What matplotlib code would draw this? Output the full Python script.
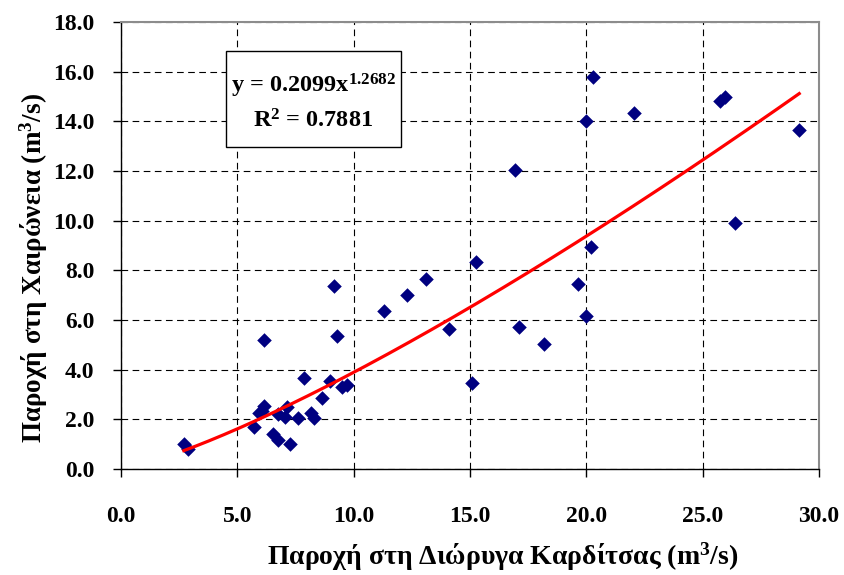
import matplotlib
matplotlib.use("Agg")
import matplotlib.pyplot as plt
from matplotlib.patches import Rectangle
import numpy as np

plt.rcParams['font.family'] = ['Liberation Serif', 'DejaVu Serif']
plt.rcParams['font.weight'] = 'bold'
plt.rcParams['mathtext.fontset'] = 'custom'
plt.rcParams['mathtext.rm'] = 'Liberation Serif:bold'
plt.rcParams['mathtext.bf'] = 'Liberation Serif:bold'
plt.rcParams['mathtext.it'] = 'Liberation Serif:bold'

# Discharge at Karditsa canal (m3/s)
karditsa = [2.7, 2.9, 6.15, 9.3, 7.85, 9.0, 9.5, 9.7, 8.65, 6.15, 5.95, 6.05,
            7.15, 6.75, 7.05, 7.6, 8.15, 8.3, 5.7, 6.55, 6.75, 7.25,
            15.25, 13.1, 12.3, 11.3, 14.1, 17.1, 15.1, 9.15,
            20.3, 20.0, 22.05, 25.75, 25.95, 29.15, 16.95, 26.4, 20.2,
            19.65, 20.0, 18.2]
# Discharge at Chaironeia (m3/s)
chaironeia = [1.0, 0.8, 5.2, 5.35, 3.65, 3.55, 3.3, 3.4, 2.85, 2.55, 2.25, 2.35,
              2.5, 2.2, 2.1, 2.05, 2.25, 2.05, 1.7, 1.4, 1.15, 1.0,
              8.35, 7.65, 7.0, 6.35, 5.65, 5.7, 3.45, 7.35,
              15.8, 14.0, 14.35, 14.8, 15.0, 13.65, 12.05, 9.9, 8.95,
              7.45, 6.15, 5.05]

coef_a = 0.2099
coef_b = 1.2682
r2 = 0.7881

xticks = [0.0, 5.0, 10.0, 15.0, 20.0, 25.0, 30.0]
yticks = [0.0, 2.0, 4.0, 6.0, 8.0, 10.0, 12.0, 14.0, 16.0, 18.0]

fig = plt.figure(figsize=(8.44, 5.75), dpi=100)
L, R, T, B = 121, 819, 22, 469
ax = fig.add_axes([L/844, 1 - B/575, (R - L)/844, (B - T)/575])

ax.set_xlim(0, 30)
ax.set_ylim(0, 18)
ax.set_xticks(xticks)
ax.set_yticks(yticks)
ax.set_xticklabels([f"{v:.1f}" for v in xticks])
ax.set_yticklabels([f"{v:.1f}" for v in yticks])

ax.grid(True, color='black', linestyle=(0, (6, 4)), linewidth=0.8)
ax.set_axisbelow(True)

for s in ['left', 'bottom']:
    ax.spines[s].set_color('black')
    ax.spines[s].set_linewidth(1.0)
for s in ['top', 'right']:
    ax.spines[s].set_color('#8c8c8c')
    ax.spines[s].set_linewidth(1.5)

ax.tick_params(axis='both', direction='out', length=6, width=1.0, labelsize=17)
ax.tick_params(axis='y', pad=13)
ax.tick_params(axis='x', pad=21)
for lab in ax.get_xticklabels() + ax.get_yticklabels():
    lab.set_fontweight('bold')

ax.scatter(karditsa, chaironeia, marker='D', s=55, color='#000080', zorder=3, linewidths=0)

xf = np.linspace(min(karditsa), max(karditsa), 200)
ax.plot(xf, coef_a * xf ** coef_b, color='#ff0000', linewidth=2.3, zorder=4)

bx0, bx1, by0, by1 = 226, 401, 147, 51
x0 = (bx0 - L) / (R - L)
x1 = (bx1 - L) / (R - L)
y0 = (B - by0) / (B - T)
y1 = (B - by1) / (B - T)
ax.add_patch(Rectangle((x0, y0), x1 - x0, y1 - y0, transform=ax.transAxes,
                       facecolor='white', edgecolor='black', linewidth=1.0, zorder=5))
xc = (x0 + x1) / 2
ax.text(xc, (B - 86) / (B - T), r"y = %.4fx$^{\mathbf{%.4f}}$" % (coef_a, coef_b),
        transform=ax.transAxes, ha='center', va='center', fontsize=17.5,
        fontweight='bold', zorder=6)
ax.text(xc, (B - 121) / (B - T), r"R$^{\mathbf{2}}$ = %.4f" % r2,
        transform=ax.transAxes, ha='center', va='center', fontsize=17.5,
        fontweight='bold', zorder=6)

fig.text(503 / 844, 1 - 557/575, r"Παροχή στη Διώρυγα Καρδίτσας (m$^{\mathbf{3}}$/s)",
         ha='center', va='center', fontsize=20, fontweight='bold')
fig.text(34/844, 1 - 268/575, r"Παροχή στη Χαιρώνεια (m$^{\mathbf{3}}$/s)", rotation=90,
         ha='center', va='center', fontsize=19.5, fontweight='bold')

fig.savefig("out.png", dpi=100)
